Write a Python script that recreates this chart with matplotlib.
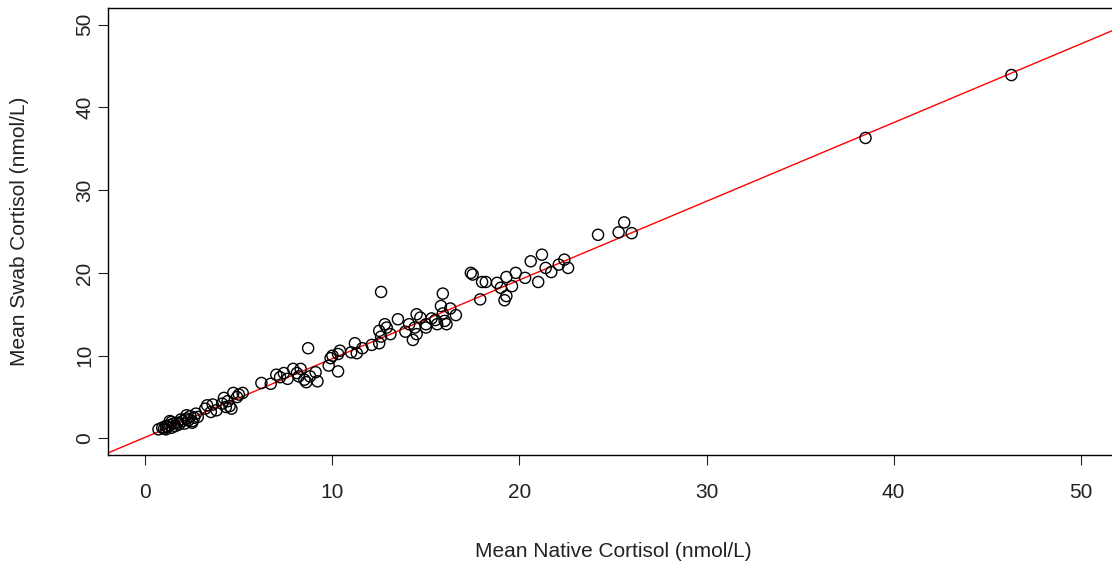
import numpy as np
import matplotlib
matplotlib.use("Agg")
import matplotlib.pyplot as plt

plt.rcParams['font.family'] = ['Liberation Sans', 'DejaVu Sans']

# mean native vs mean swab cortisol (nmol/L)
native = [0.7, 0.9, 1.0, 1.1, 1.2, 1.3, 1.1, 1.4, 1.5, 1.6, 1.7, 1.8, 1.4, 2.0, 2.1,
          2.2, 2.3, 2.4, 2.5, 2.6, 2.7, 2.8, 2.2, 1.9, 1.3, 2.5,
          3.2, 3.3, 3.5, 3.6, 3.8, 4.1, 4.2, 4.4, 4.5, 4.6, 4.7, 4.9, 5.0, 5.2, 4.3,
          6.2, 6.7, 7.0, 7.2, 7.4, 7.6, 7.9, 8.1, 8.3, 8.2, 8.5, 8.6, 8.8, 9.1, 9.2,
          8.7, 9.8, 9.9, 10.0, 10.3, 10.4, 10.3,
          11.0, 11.2, 11.3, 11.6, 12.1, 12.5, 12.6, 12.5, 12.6, 12.8, 12.9, 13.1, 13.5,
          13.9, 14.1, 14.3, 14.4, 14.5, 14.5, 14.7, 15.0, 15.0, 15.3, 15.5, 15.6, 15.8,
          15.9, 16.0, 16.1, 16.3, 16.6, 15.9,
          17.4, 17.5, 17.9, 18.0, 18.2, 18.8, 19.0, 19.2, 19.3, 19.3, 19.6, 19.8, 20.3,
          20.6, 21.0, 21.2, 21.4, 21.7, 22.1, 22.4, 22.6,
          24.2, 25.3, 25.6, 26.0, 38.5, 46.3]
swab = [1.1, 1.3, 1.2, 1.5, 1.4, 1.6, 1.1, 1.3, 1.8, 1.5, 1.9, 1.7, 2.0, 2.1, 1.8,
        2.4, 2.2, 2.7, 1.9, 2.5, 3.0, 2.6, 2.8, 2.3, 2.1, 2.1,
        3.6, 4.0, 3.2, 4.1, 3.4, 4.2, 4.9, 4.5, 3.9, 3.6, 5.5, 5.0, 5.3, 5.5, 3.8,
        6.7, 6.6, 7.7, 7.4, 7.9, 7.2, 8.4, 7.9, 8.4, 7.5, 7.1, 6.8, 7.5, 8.0, 6.9,
        10.9, 8.8, 9.7, 10.0, 10.2, 10.6, 8.1,
        10.4, 11.5, 10.3, 10.9, 11.3, 11.5, 17.7, 13.0, 12.3, 13.8, 13.4, 12.6, 14.4,
        12.9, 13.8, 11.9, 13.4, 15.0, 12.6, 14.6, 13.8, 13.4, 14.5, 14.3, 13.8, 16.0,
        17.5, 14.2, 13.8, 15.7, 14.9, 15.1,
        20.0, 19.8, 16.8, 18.9, 18.9, 18.8, 18.2, 16.7, 17.2, 19.5, 18.4, 20.0, 19.4,
        21.4, 18.9, 22.2, 20.6, 20.1, 21.0, 21.6, 20.6,
        24.6, 24.9, 26.1, 24.8, 36.3, 43.9]

# fitted line
intercept = 0.15
slope = 0.95

fig = plt.figure(figsize=(11.12, 5.63), dpi=100)
ax = fig.add_axes([108 / 1112, 108 / 563, 1010 / 1112, 447 / 563])

ax.scatter(native, swab, s=64, facecolors='none', edgecolors='black', linewidths=1.0, zorder=3)
ax.axline((0, intercept), slope=slope, color='red', linewidth=1.0, zorder=2)

ax.set_xlim(-2, 52)
ax.set_ylim(-2, 52)
ticks = [0, 10, 20, 30, 40, 50]
ax.set_xticks(ticks)
ax.set_yticks(ticks)
ax.set_yticklabels([str(t) for t in ticks], rotation=90, va='center')
ax.tick_params(direction='out', length=7, width=0.8, labelsize=15, colors='#222222')
ax.tick_params(axis='x', pad=13)
ax.tick_params(axis='y', pad=3)

for sp in ax.spines.values():
    sp.set_linewidth(1.0)
    sp.set_color('black')

ax.set_xlabel('Mean Native Cortisol (nmol/L)', fontsize=15, labelpad=29, color='#222222')
ax.set_ylabel('Mean Swab Cortisol (nmol/L)', fontsize=15, labelpad=33, color='#222222')

fig.savefig('out.png', dpi=100)
